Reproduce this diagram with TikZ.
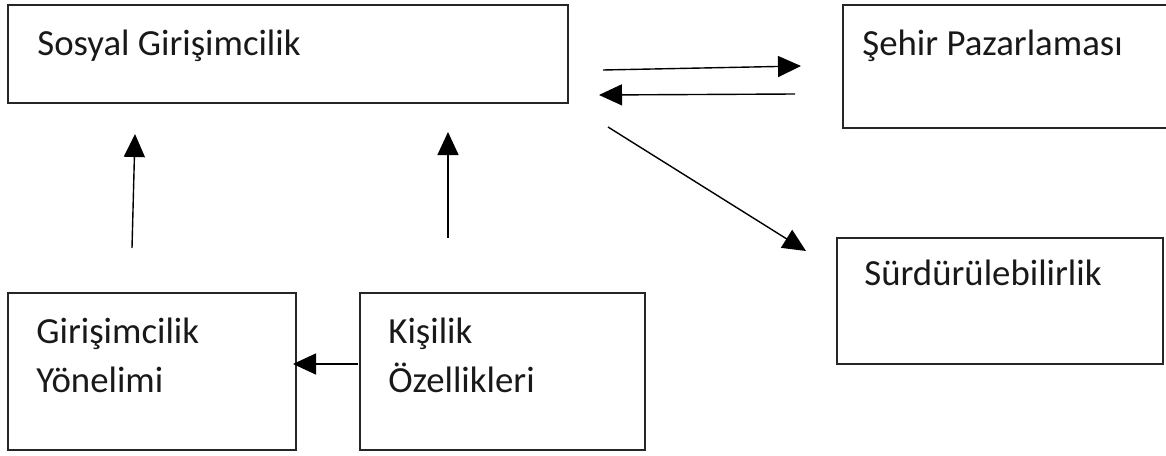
\documentclass[tikz,border=0pt]{standalone}
\usepackage{fontspec}
\setmainfont{Carlito}
\usetikzlibrary{arrows.meta}
\begin{document}
\begin{tikzpicture}[x=0.5pt,y=-0.5pt,
  box/.style={draw=black!85,line width=0.75pt,rectangle,inner sep=0pt},
  lbl/.style={anchor=base west,inner sep=0pt,font=\fontsize{18.4}{24}\selectfont,text=black!90},
  arr/.style={line width=0.7pt,-{Triangle[length=11.5pt,width=10.5pt]}}]
\useasboundingbox (0,0) rectangle (1166,455);
% boxes
\draw[box] (8,5) rectangle (568,103);
\draw[box] (843,5) rectangle (1167,128);
\draw[box] (837,238) rectangle (1163,364);
\draw[box] (8,293) rectangle (296,450);
\draw[box] (360,293) rectangle (645,450);
% labels
\node[lbl] (sg) at (37,55) {Sosyal Girişimcilik};
\node[lbl] (sp) at (862,55) {Şehir Pazarlaması};
\node[lbl] (su) at (864,285) {Sürdürülebilirlik};
\node[lbl] (gy1) at (36,343) {Girişimcilik};
\node[lbl] (gy2) at (36,392) {Yönelimi};
\node[lbl] (ko1) at (388,343) {Kişilik};
\node[lbl] (ko2) at (388,392) {Özellikleri};
% connector ends
\coordinate (a1s) at (603,70);  \coordinate (a1e) at (801,66);
\coordinate (a2s) at (795,94);  \coordinate (a2e) at (599,95);
\coordinate (a3s) at (608,127); \coordinate (a3e) at (806,251);
\coordinate (a4s) at (132,248); \coordinate (a4e) at (135,134);
\coordinate (a5s) at (448,238); \coordinate (a5e) at (448,132);
\coordinate (a6s) at (358,364); \coordinate (a6e) at (293,364);
\draw[arr] (a1s) -- (a1e);
\draw[arr] (a2s) -- (a2e);
\draw[arr] (a3s) -- (a3e);
\draw[arr] (a4s) -- (a4e);
\draw[arr] (a5s) -- (a5e);
\draw[arr] (a6s) -- (a6e);
\end{tikzpicture}
\end{document}
